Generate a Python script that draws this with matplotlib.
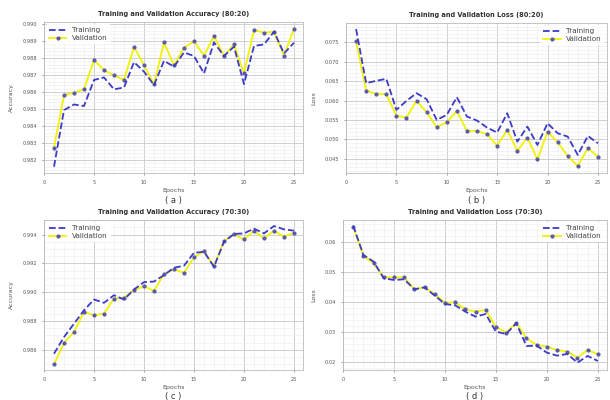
import matplotlib
matplotlib.use("Agg")
import matplotlib.pyplot as plt
from matplotlib.ticker import AutoMinorLocator, MultipleLocator, FormatStrFormatter

epochs = list(range(1, 26))

acc_train_8020 = [0.98161, 0.98494, 0.98527, 0.98518, 0.98671, 0.98686, 0.98616, 0.98627, 0.98776, 0.98720,
                  0.98641, 0.98784, 0.98749, 0.98833, 0.98812, 0.98710, 0.98892, 0.98812, 0.98867, 0.98647,
                  0.98871, 0.98880, 0.98955, 0.98827, 0.98890]
acc_val_8020 = [0.98273, 0.98582, 0.98596, 0.98616, 0.98788, 0.98729, 0.98698, 0.98671, 0.98865, 0.98759,
                0.98645, 0.98892, 0.98757, 0.98861, 0.98898, 0.98814, 0.98929, 0.98812, 0.98880, 0.98710,
                0.98965, 0.98949, 0.98955, 0.98814, 0.98973]

loss_train_8020 = [0.07834, 0.06446, 0.06506, 0.06557, 0.05760, 0.05991, 0.06189, 0.06034, 0.05503, 0.05631,
                   0.06086, 0.05589, 0.05486, 0.05306, 0.05177, 0.05674, 0.04946, 0.05331, 0.04860, 0.05417,
                   0.05160, 0.05074, 0.04603, 0.05091, 0.04903]
loss_val_8020 = [0.07517, 0.06257, 0.06171, 0.06163, 0.05614, 0.05563, 0.05991, 0.05700, 0.05314, 0.05443,
                 0.05734, 0.05220, 0.05220, 0.05134, 0.04843, 0.05246, 0.04706, 0.05049, 0.04489, 0.05203,
                 0.04929, 0.04577, 0.04320, 0.04774, 0.04560]

acc_train_7030 = [0.98572, 0.98688, 0.98781, 0.98874, 0.98949, 0.98926, 0.98979, 0.98949, 0.99019, 0.99070,
                  0.99074, 0.99119, 0.99170, 0.99184, 0.99274, 0.99281, 0.99177, 0.99351, 0.99405, 0.99409,
                  0.99442, 0.99409, 0.99460, 0.99437, 0.99428]
acc_val_7030 = [0.98498, 0.98647, 0.98723, 0.98863, 0.98840, 0.98851, 0.98956, 0.98963, 0.99014, 0.99042,
                0.99009, 0.99126, 0.99158, 0.99135, 0.99242, 0.99286, 0.99181, 0.99356, 0.99402, 0.99367,
                0.99428, 0.99374, 0.99428, 0.99386, 0.99414]

loss_train_7030 = [0.06556, 0.05578, 0.05356, 0.04800, 0.04744, 0.04767, 0.04433, 0.04500, 0.04222, 0.03944,
                   0.03900, 0.03689, 0.03522, 0.03611, 0.03022, 0.02944, 0.03300, 0.02544, 0.02556, 0.02322,
                   0.02222, 0.02278, 0.01989, 0.02211, 0.02044]
loss_val_7030 = [0.06522, 0.05556, 0.05300, 0.04833, 0.04833, 0.04833, 0.04433, 0.04500, 0.04267, 0.03989,
                 0.04000, 0.03767, 0.03689, 0.03744, 0.03189, 0.02989, 0.03322, 0.02800, 0.02578, 0.02522,
                 0.02411, 0.02356, 0.02156, 0.02411, 0.02267]

titles = ["Training and Validation Accuracy (80:20)", "Training and Validation Loss (80:20)",
          "Training and Validation Accuracy (70:30)", "Training and Validation Loss (70:30)"]
ylabels = ["Accuracy", "Loss", "Accuracy", "Loss"]
captions = ["( a )", "( b )", "( c )", "( d )"]
series = [(acc_train_8020, acc_val_8020), (loss_train_8020, loss_val_8020),
          (acc_train_7030, acc_val_7030), (loss_train_7030, loss_val_7030)]
legend_locs = ["upper left", "upper right", "upper left", "upper right"]
ymajor = [0.001, 0.005, 0.002, 0.01]
yfmt = ["%.3f", "%.3f", "%.3f", "%.2f"]
ylims = [(0.98124, 0.99012), (0.0414, 0.0799), (0.98459, 0.99502), (0.01743, 0.06744)]

W, H = 610, 400
fig = plt.figure(figsize=(6.1, 4.0), dpi=100)
fig.patch.set_facecolor("white")

# axes rectangles in pixels: left, top, right, bottom
rects = [(44, 22, 303, 173), (346, 23, 607, 173), (44, 220, 303, 370), (343, 220, 607, 370)]
caption_y = [201, 201, 396, 396]

for i in range(4):
    l, t, r, b = rects[i]
    ax = fig.add_axes([l / W, 1 - b / H, (r - l) / W, (b - t) / H])
    tr, va = series[i]
    ax.plot(epochs, tr, linestyle="--", color="#3b3bc8", linewidth=1.3, label="Training", zorder=3)
    ax.plot(epochs, va, linestyle="-", color="#f2f200", linewidth=1.3, marker="o", markersize=2.0,
            markerfacecolor="#5a5aa8", markeredgecolor="#5a5aa8", label="Validation", zorder=2)
    ax.set_xlim(0, 25.9)
    ax.set_ylim(*ylims[i])
    ax.xaxis.set_major_locator(MultipleLocator(5))
    ax.xaxis.set_minor_locator(MultipleLocator(1))
    ax.yaxis.set_major_locator(MultipleLocator(ymajor[i]))
    ax.yaxis.set_minor_locator(AutoMinorLocator())
    ax.yaxis.set_major_formatter(FormatStrFormatter(yfmt[i]))
    ax.grid(which="major", color="#c8c8c8", linewidth=0.6)
    ax.grid(which="minor", color="#ececec", linewidth=0.4)
    ax.set_axisbelow(True)
    ax.tick_params(which="both", labelsize=3.6, colors="#555555", length=1.5, width=0.4)
    ax.tick_params(which="minor", length=0)
    for s in ax.spines.values():
        s.set_color("#bbbbbb")
        s.set_linewidth(0.6)
    ax.set_title(titles[i], fontsize=4.8, fontweight="bold", color="#333333", pad=4)
    ax.set_xlabel("Epochs", fontsize=4.5, color="#555555", labelpad=2.5)
    ax.set_ylabel(ylabels[i], fontsize=4.5, color="#555555", labelpad=6)
    leg = ax.legend(loc=legend_locs[i], fontsize=5.2, frameon=True, framealpha=0.9,
                    edgecolor="none", handlelength=2.4, borderaxespad=0.3, labelspacing=0.3)
    for txt in leg.get_texts():
        txt.set_color("#444444")
    cx = (l + r) / 2 / W
    cy = 1 - caption_y[i] / H
    fig.text(cx, cy, captions[i], ha="center", va="center", fontsize=6.0, color="#333333")

fig.savefig("out.png", dpi=100, facecolor="white")
